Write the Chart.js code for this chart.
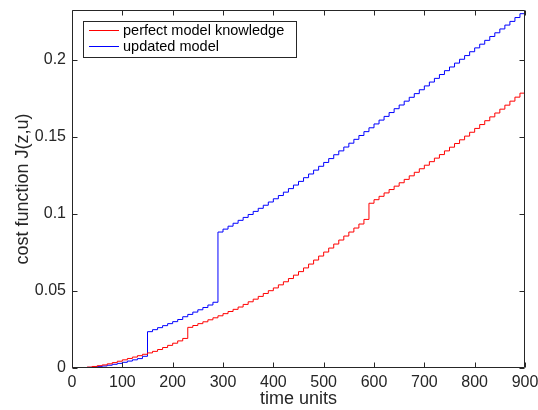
<!DOCTYPE html>
<html>
<head>
<meta charset="utf-8">
<script src="https://cdn.jsdelivr.net/npm/chart.js@4.4.1/dist/chart.umd.min.js"></script>
<style>
html, body { margin: 0; padding: 0; background: #fff; }
#wrap { width: 538px; height: 410px; }
</style>
</head>
<body>
<div id="wrap"><canvas id="chart"></canvas></div>
<script>
// time axis, one sample every 10 units
const timeUnits = [
    0, 10, 20, 30, 40, 50, 60, 70, 80, 90,
    100, 110, 120, 130, 140, 150, 160, 170, 180, 190,
    200, 210, 220, 230, 240, 250, 260, 270, 280, 290,
    300, 310, 320, 330, 340, 350, 360, 370, 380, 390,
    400, 410, 420, 430, 440, 450, 460, 470, 480, 490,
    500, 510, 520, 530, 540, 550, 560, 570, 580, 590,
    600, 610, 620, 630, 640, 650, 660, 670, 680, 690,
    700, 710, 720, 730, 740, 750, 760, 770, 780, 790,
    800, 810, 820, 830, 840, 850, 860, 870, 880, 890,
    900
];

// cost
const perfectModel = [
    0, 0.0001, 0.0003, 0.0006, 0.0010, 0.0015, 0.0020, 0.0027, 0.0035, 0.0044,
    0.0053, 0.0062, 0.0071, 0.0080, 0.0089, 0.0098, 0.0108, 0.0120, 0.0133, 0.0147,
    0.0161, 0.0176, 0.0192, 0.0264, 0.0276, 0.0288, 0.0300, 0.0313, 0.0326, 0.0339,
    0.0353, 0.0367, 0.0381, 0.0396, 0.0413, 0.0430, 0.0447, 0.0465, 0.0484, 0.0502,
    0.0520, 0.0540, 0.0560, 0.0581, 0.0603, 0.0626, 0.0650, 0.0675, 0.0701, 0.0727,
    0.0753, 0.0779, 0.0805, 0.0831, 0.0857, 0.0883, 0.0909, 0.0935, 0.0965, 0.1070,
    0.1093, 0.1115, 0.1137, 0.1159, 0.1181, 0.1203, 0.1225, 0.1248, 0.1271, 0.1294,
    0.1317, 0.1340, 0.1363, 0.1386, 0.1410, 0.1434, 0.1458, 0.1482, 0.1506, 0.1531,
    0.1556, 0.1581, 0.1606, 0.1631, 0.1656, 0.1681, 0.1707, 0.1733, 0.1759, 0.1785,
    0.1815
];

// cost
const updatedModel = [
    0, 0.0001, 0.0002, 0.0004, 0.0006, 0.0009, 0.0013, 0.0018, 0.0024, 0.0030,
    0.0037, 0.0045, 0.0053, 0.0061, 0.0076, 0.0236, 0.0249, 0.0262, 0.0275, 0.0288,
    0.0301, 0.0315, 0.0333, 0.0348, 0.0363, 0.0378, 0.0393, 0.0409, 0.0427, 0.0883,
    0.0902, 0.0921, 0.0940, 0.0959, 0.0978, 0.0997, 0.1017, 0.1037, 0.1057, 0.1078,
    0.1099, 0.1120, 0.1142, 0.1165, 0.1188, 0.1212, 0.1236, 0.1260, 0.1285, 0.1310,
    0.1335, 0.1360, 0.1385, 0.1410, 0.1435, 0.1460, 0.1485, 0.1510, 0.1535, 0.1560,
    0.1585, 0.1610, 0.1634, 0.1659, 0.1684, 0.1708, 0.1733, 0.1758, 0.1782, 0.1807,
    0.1832, 0.1857, 0.1881, 0.1906, 0.1931, 0.1955, 0.1980, 0.2005, 0.2029, 0.2054,
    0.2079, 0.2103, 0.2128, 0.2153, 0.2177, 0.2202, 0.2227, 0.2251, 0.2276, 0.2301,
    0.2325
];

const seriesNames = ["perfect model knowledge", "updated model"];
const seriesColors = ["#ff0000", "#0000ff"];

const xTicks = [0, 100, 200, 300, 400, 500, 600, 700, 800, 900];
const yTicks = [0, 0.05, 0.1, 0.15, 0.2];

const FONT = "'Liberation Sans', Arial, Helvetica, sans-serif";
const INK = "#262626";

const pts = (vals) => timeUnits.map((t, i) => ({ x: t, y: vals[i] }));

// matlab style box: inward ticks on all four sides + legend box in the corner
const matlabBox = {
    id: 'matlabBox',
    afterDraw(chart) {
        const { ctx, chartArea: a, scales: { x, y } } = chart;
        const L = Math.round(a.left) + 0.5, R = Math.round(a.right) - 0.5;
        const T = Math.round(a.top) + 0.5, B = Math.round(a.bottom) - 0.5;
        ctx.save();
        ctx.strokeStyle = INK;
        ctx.lineWidth = 1;
        ctx.beginPath();
        ctx.rect(L, T, R - L, B - T);
        xTicks.forEach(v => {
            const px = Math.round(x.getPixelForValue(v)) + 0.5;
            ctx.moveTo(px, B); ctx.lineTo(px, B - 5);
            ctx.moveTo(px, T); ctx.lineTo(px, T + 5);
        });
        yTicks.forEach(v => {
            const py = Math.round(y.getPixelForValue(v)) + 0.5;
            ctx.moveTo(L, py); ctx.lineTo(L + 5, py);
            ctx.moveTo(R, py); ctx.lineTo(R - 5, py);
        });
        ctx.stroke();

        // legend
        const lx = 83.5, ly = 21.5, lw = 213, lh = 36;
        ctx.fillStyle = '#fff';
        ctx.fillRect(lx, ly, lw, lh);
        ctx.strokeStyle = INK;
        ctx.strokeRect(lx, ly, lw, lh);
        ctx.font = '14.5px ' + FONT;
        ctx.textBaseline = 'middle';
        seriesNames.forEach((name, i) => {
            const yy = 30.5 + i * 16;
            ctx.strokeStyle = seriesColors[i];
            ctx.beginPath();
            ctx.moveTo(89, yy); ctx.lineTo(119, yy);
            ctx.stroke();
            ctx.fillStyle = '#000';
            ctx.fillText(name, 123, yy);
        });
        ctx.restore();
    }
};

new Chart(document.getElementById("chart"), {
    type: 'line',
    data: {
        datasets: [{
            label: seriesNames[0],
            data: pts(perfectModel),
            borderColor: seriesColors[0],
            borderWidth: 1,
            pointRadius: 0,
            stepped: 'before',
            fill: false
        }, {
            label: seriesNames[1],
            data: pts(updatedModel),
            borderColor: seriesColors[1],
            borderWidth: 1,
            pointRadius: 0,
            stepped: 'before',
            fill: false
        }]
    },
    options: {
        responsive: true,
        maintainAspectRatio: false,
        animation: false,
        layout: { padding: { top: 10, right: 13, left: 0, bottom: 0 } },
        plugins: {
            legend: { display: false },
            tooltip: { enabled: false }
        },
        scales: {
            x: {
                type: 'linear',
                min: 0,
                max: 900,
                afterBuildTicks: s => { s.ticks = xTicks.map(v => ({ value: v })); },
                afterFit: s => { s.height = 42; s.paddingLeft = 0; s.paddingRight = 0; },
                grid: { display: false, drawTicks: false },
                border: { display: false },
                ticks: { color: INK, font: { family: FONT, size: 16 }, padding: 5, maxRotation: 0 },
                title: {
                    display: true, text: 'time units', color: INK,
                    font: { family: FONT, size: 18 }, padding: { top: 0, bottom: 0 }
                }
            },
            y: {
                type: 'linear',
                min: 0,
                max: 0.2325,
                afterBuildTicks: s => { s.ticks = yTicks.map(v => ({ value: v })); },
                afterFit: s => { s.width = 72; s.paddingTop = 0; s.paddingBottom = 0; },
                grid: { display: false, drawTicks: false },
                border: { display: false },
                ticks: {
                    color: INK, font: { family: FONT, size: 16 }, padding: 6,
                    callback: v => String(+v.toFixed(2))
                },
                title: {
                    display: true, text: 'cost function J(z,u)', color: INK,
                    font: { family: FONT, size: 18 }, padding: { top: 12, bottom: 0 }
                }
            }
        }
    },
    plugins: [matlabBox]
});
</script>
</body>
</html>
